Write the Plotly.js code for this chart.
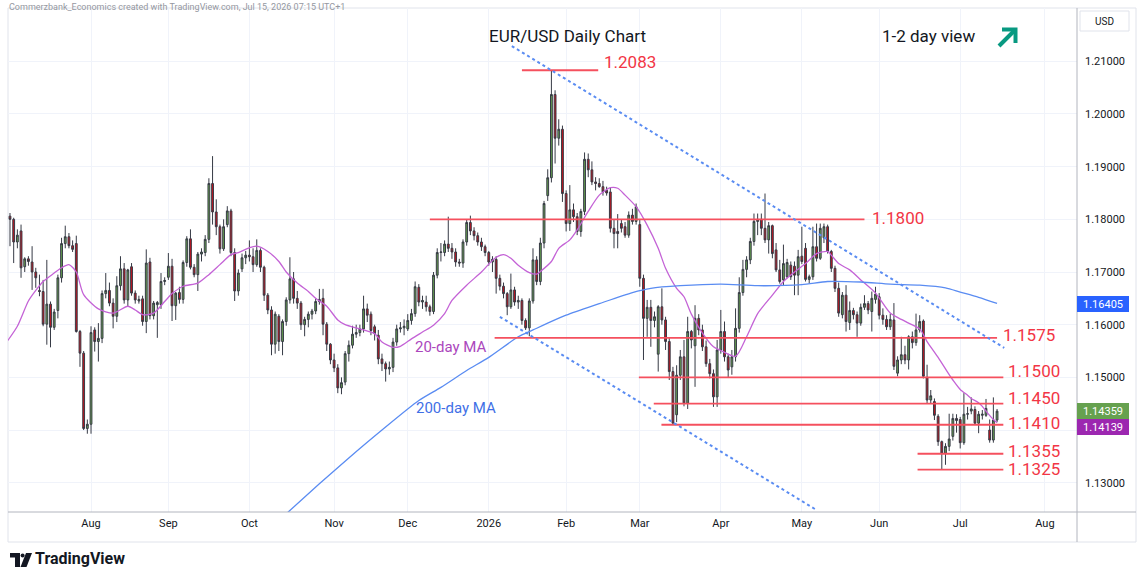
<!DOCTYPE html>
<html>
<head>
<meta charset="utf-8">
<script src="https://cdn.plot.ly/plotly-3.0.1.min.js"></script>
<style>
html,body{margin:0;padding:0;background:#ffffff;}
#chart{width:1140px;height:570px;}
</style>
</head>
<body>
<div id="chart"></div>
<script>
// ---------------- DATA ----------------
const firstDay = '2025-07-01';
const closedDays = ['2025-12-25', '2026-01-01'];

// daily OHLC, Jul 2025 .. 15 Jul 2026 (one line per month)
const open = [
1.1787,1.1806,1.1800,1.1757,1.1778,1.1710,1.1725,1.1719,1.1700,1.1665,1.1663,1.1601,1.1639,1.1595,1.1627,1.1689,1.1754,1.1767,1.1750,1.1754,1.1587,1.1546,1.1403,
1.1411,1.1590,1.1568,1.1574,1.1659,1.1665,1.1641,1.1616,1.1674,1.1706,1.1647,1.1710,1.1660,1.1645,1.1649,1.1606,1.1719,1.1617,1.1638,1.1638,1.1682,
1.1690,1.1711,1.1636,1.1661,1.1648,1.1718,1.1763,1.1709,1.1695,1.1734,1.1737,1.1762,1.1868,1.1814,1.1786,1.1744,1.1790,1.1816,1.1737,1.1664,1.1706,1.1727,
1.1732,1.1729,1.1714,1.1741,1.1709,1.1656,1.1628,1.1563,1.1616,1.1568,1.1606,1.1647,1.1687,1.1650,1.1641,1.1600,1.1610,1.1620,1.1626,1.1644,1.1650,1.1601,1.1563,
1.1533,1.1518,1.1480,1.1491,1.1545,1.1561,1.1582,1.1585,1.1592,1.1630,1.1620,1.1596,1.1580,1.1535,1.1526,1.1516,1.1519,1.1567,1.1592,1.1594,
1.1592,1.1608,1.1621,1.1671,1.1643,1.1643,1.1634,1.1625,1.1694,1.1737,1.1737,1.1753,1.1745,1.1738,1.1719,1.1717,1.1757,1.1794,1.1778,1.1769,1.1757,1.1748,
1.1737,1.1719,1.1724,1.1688,1.1673,1.1659,1.1634,1.1666,1.1643,1.1646,1.1608,1.1594,1.1645,1.1723,1.1682,1.1755,1.1845,1.1879,1.2037,1.1954,1.1971,
1.1849,1.1792,1.1818,1.1805,1.1777,1.1815,1.1914,1.1894,1.1871,1.1868,1.1862,1.1855,1.1852,1.1783,1.1777,1.1792,1.1786,1.1770,1.1808,1.1796,
1.1790,1.1688,1.1612,1.1633,1.1608,1.1544,1.1634,1.1609,1.1568,1.1511,1.1429,1.1504,1.1539,1.1451,1.1587,1.1560,1.1612,1.1590,1.1558,1.1526,1.1507,1.1463,
1.1552,1.1587,1.1539,1.1520,1.1539,1.1593,1.1661,1.1705,1.1723,1.1758,1.1796,1.1800,1.1783,1.1761,1.1788,1.1742,1.1704,1.1685,1.1691,1.1713,1.1711,1.1694,
1.1730,1.1745,1.1686,1.1691,1.1748,1.1726,1.1765,1.1786,1.1739,1.1707,1.1669,1.1619,1.1656,1.1604,1.1627,1.1619,1.1603,1.1633,1.1640,1.1625,1.1648,
1.1653,1.1618,1.1610,1.1596,1.1609,1.1508,1.1533,1.1543,1.1533,1.1577,1.1566,1.1590,1.1607,1.1500,1.1457,1.1454,1.1426,1.1378,1.1356,1.1369,1.1388,1.1422,
1.1420,1.1376,1.1430,1.1436,1.1439,1.1413,1.1428,1.1428,1.1400,1.1381,1.1419
];
const high = [
1.1830,1.1812,1.1803,1.1781,1.1790,1.1728,1.1730,1.1749,1.1708,1.1695,1.1685,1.1723,1.1644,1.1630,1.1695,1.1765,1.1788,1.1774,1.1760,1.1769,1.1590,1.1550,1.1420,
1.1597,1.1595,1.1603,1.1665,1.1698,1.1680,1.1650,1.1692,1.1730,1.1717,1.1706,1.1717,1.1665,1.1655,1.1655,1.1743,1.1727,1.1645,1.1645,1.1698,1.1690,
1.1736,1.1725,1.1662,1.1672,1.1722,1.1768,1.1781,1.1715,1.1738,1.1745,1.1770,1.1878,1.1920,1.1838,1.1790,1.1800,1.1825,1.1820,1.1745,1.1705,1.1735,1.1740,
1.1760,1.1745,1.1762,1.1745,1.1712,1.1660,1.1635,1.1625,1.1620,1.1610,1.1652,1.1728,1.1700,1.1664,1.1645,1.1615,1.1625,1.1630,1.1650,1.1668,1.1668,1.1605,1.1565,
1.1545,1.1525,1.1500,1.1550,1.1570,1.1598,1.1600,1.1600,1.1655,1.1640,1.1625,1.1600,1.1590,1.1545,1.1530,1.1530,1.1575,1.1600,1.1605,1.1610,
1.1620,1.1630,1.1682,1.1677,1.1655,1.1655,1.1638,1.1700,1.1745,1.1755,1.1760,1.1805,1.1755,1.1745,1.1725,1.1762,1.1800,1.1807,1.1785,1.1775,1.1765,1.1752,
1.1740,1.1730,1.1730,1.1695,1.1680,1.1662,1.1697,1.1672,1.1655,1.1650,1.1612,1.1650,1.1745,1.1730,1.1765,1.1835,1.1895,1.2083,1.2045,1.1990,1.1978,
1.1855,1.1865,1.1830,1.1812,1.1820,1.1927,1.1925,1.1910,1.1880,1.1878,1.1873,1.1862,1.1860,1.1800,1.1810,1.1800,1.1795,1.1815,1.1820,1.1830,
1.1800,1.1695,1.1647,1.1647,1.1625,1.1637,1.1669,1.1615,1.1575,1.1520,1.1523,1.1552,1.1571,1.1615,1.1590,1.1637,1.1620,1.1600,1.1570,1.1535,1.1515,1.1571,
1.1628,1.1606,1.1545,1.1552,1.1631,1.1690,1.1723,1.1730,1.1765,1.1811,1.1811,1.1811,1.1849,1.1795,1.1790,1.1755,1.1723,1.1752,1.1725,1.1720,1.1720,1.1742,
1.1786,1.1755,1.1695,1.1786,1.1792,1.1792,1.1792,1.1790,1.1742,1.1712,1.1680,1.1662,1.1675,1.1644,1.1632,1.1625,1.1640,1.1656,1.1645,1.1663,1.1672,
1.1660,1.1631,1.1618,1.1621,1.1641,1.1540,1.1577,1.1560,1.1580,1.1587,1.1621,1.1618,1.1610,1.1524,1.1476,1.1460,1.1430,1.1380,1.1375,1.1431,1.1431,1.1430,
1.1425,1.1470,1.1444,1.1462,1.1445,1.1436,1.1438,1.1459,1.1420,1.1462,1.1440
];
const low = [
1.1785,1.1749,1.1717,1.1745,1.1689,1.1700,1.1712,1.1666,1.1670,1.1654,1.1597,1.1562,1.1557,1.1590,1.1612,1.1680,1.1745,1.1745,1.1738,1.1585,1.1520,1.1400,1.1393,
1.1393,1.1549,1.1530,1.1565,1.1650,1.1635,1.1593,1.1605,1.1665,1.1640,1.1635,1.1655,1.1640,1.1640,1.1598,1.1584,1.1610,1.1610,1.1575,1.1630,1.1675,
1.1685,1.1607,1.1609,1.1640,1.1640,1.1710,1.1705,1.1690,1.1664,1.1720,1.1730,1.1755,1.1790,1.1770,1.1735,1.1740,1.1785,1.1730,1.1645,1.1655,1.1700,1.1715,
1.1720,1.1700,1.1710,1.1700,1.1645,1.1620,1.1542,1.1545,1.1550,1.1542,1.1598,1.1640,1.1640,1.1630,1.1590,1.1578,1.1595,1.1610,1.1620,1.1638,1.1580,1.1550,1.1525,
1.1510,1.1470,1.1468,1.1485,1.1530,1.1555,1.1575,1.1578,1.1585,1.1605,1.1580,1.1570,1.1525,1.1512,1.1492,1.1505,1.1510,1.1560,1.1585,1.1580,
1.1588,1.1600,1.1615,1.1635,1.1630,1.1625,1.1617,1.1620,1.1688,1.1720,1.1730,1.1738,1.1725,1.1710,1.1710,1.1708,1.1750,1.1770,1.1760,1.1750,1.1740,1.1730,
1.1712,1.1700,1.1659,1.1665,1.1650,1.1618,1.1630,1.1636,1.1630,1.1600,1.1590,1.1578,1.1640,1.1675,1.1675,1.1745,1.1835,1.1870,1.1906,1.1940,1.1833,
1.1777,1.1778,1.1795,1.1770,1.1767,1.1808,1.1880,1.1865,1.1855,1.1860,1.1845,1.1845,1.1775,1.1745,1.1745,1.1775,1.1765,1.1765,1.1790,1.1790,
1.1672,1.1533,1.1577,1.1558,1.1595,1.1511,1.1600,1.1552,1.1495,1.1410,1.1415,1.1495,1.1445,1.1440,1.1555,1.1482,1.1580,1.1550,1.1520,1.1498,1.1444,1.1444,
1.1545,1.1530,1.1500,1.1505,1.1530,1.1585,1.1655,1.1690,1.1715,1.1750,1.1770,1.1770,1.1755,1.1735,1.1726,1.1700,1.1678,1.1675,1.1688,1.1685,1.1656,1.1656,
1.1715,1.1682,1.1678,1.1685,1.1720,1.1723,1.1755,1.1735,1.1700,1.1662,1.1615,1.1612,1.1587,1.1590,1.1610,1.1577,1.1598,1.1628,1.1620,1.1587,1.1640,
1.1610,1.1600,1.1590,1.1590,1.1514,1.1502,1.1525,1.1525,1.1515,1.1555,1.1560,1.1585,1.1498,1.1450,1.1450,1.1419,1.1370,1.1325,1.1334,1.1360,1.1380,1.1395,
1.1365,1.1372,1.1420,1.1430,1.1410,1.1394,1.1420,1.1425,1.1376,1.1376,1.1415
];
const close = [
1.1806,1.1800,1.1757,1.1770,1.1708,1.1725,1.1720,1.1700,1.1689,1.1663,1.1601,1.1639,1.1595,1.1624,1.1689,1.1754,1.1767,1.1750,1.1743,1.1587,1.1546,1.1403,1.1411,
1.1585,1.1568,1.1574,1.1659,1.1665,1.1641,1.1616,1.1674,1.1706,1.1647,1.1704,1.1660,1.1647,1.1648,1.1606,1.1717,1.1617,1.1641,1.1642,1.1682,1.1684,
1.1711,1.1636,1.1660,1.1648,1.1718,1.1763,1.1709,1.1695,1.1734,1.1738,1.1762,1.1868,1.1814,1.1786,1.1744,1.1786,1.1816,1.1737,1.1664,1.1698,1.1727,1.1732,
1.1729,1.1714,1.1741,1.1709,1.1656,1.1628,1.1563,1.1620,1.1568,1.1606,1.1647,1.1687,1.1650,1.1641,1.1600,1.1610,1.1620,1.1626,1.1644,1.1648,1.1601,1.1563,1.1533,
1.1518,1.1480,1.1490,1.1545,1.1561,1.1582,1.1585,1.1592,1.1630,1.1618,1.1589,1.1583,1.1535,1.1526,1.1516,1.1519,1.1567,1.1592,1.1594,1.1597,
1.1608,1.1621,1.1672,1.1643,1.1646,1.1634,1.1625,1.1694,1.1737,1.1738,1.1753,1.1745,1.1738,1.1719,1.1717,1.1757,1.1794,1.1778,1.1769,1.1757,1.1748,1.1737,
1.1719,1.1724,1.1688,1.1673,1.1659,1.1634,1.1666,1.1643,1.1646,1.1608,1.1594,1.1645,1.1723,1.1682,1.1755,1.1830,1.1879,1.2037,1.1954,1.1971,1.1849,
1.1792,1.1818,1.1805,1.1777,1.1815,1.1914,1.1894,1.1871,1.1868,1.1862,1.1852,1.1850,1.1783,1.1773,1.1773,1.1783,1.1770,1.1808,1.1796,1.1824,
1.1688,1.1612,1.1633,1.1608,1.1615,1.1634,1.1609,1.1568,1.1511,1.1413,1.1504,1.1539,1.1451,1.1587,1.1571,1.1612,1.1590,1.1558,1.1526,1.1507,1.1463,1.1552,
1.1587,1.1539,1.1514,1.1539,1.1593,1.1661,1.1705,1.1723,1.1758,1.1796,1.1800,1.1783,1.1761,1.1788,1.1735,1.1704,1.1682,1.1716,1.1718,1.1691,1.1694,1.1729,
1.1720,1.1686,1.1691,1.1748,1.1726,1.1783,1.1786,1.1739,1.1707,1.1669,1.1622,1.1656,1.1606,1.1627,1.1619,1.1603,1.1633,1.1640,1.1628,1.1650,1.1658,
1.1618,1.1610,1.1596,1.1610,1.1521,1.1533,1.1543,1.1533,1.1577,1.1566,1.1590,1.1606,1.1502,1.1457,1.1465,1.1428,1.1378,1.1356,1.1369,1.1383,1.1422,1.1418,
1.1376,1.1430,1.1431,1.1440,1.1413,1.1430,1.1430,1.1441,1.1381,1.1419,1.14359
];

// 20-day moving average
const ma20Dates = ['2025-07-01','2025-07-04','2025-07-09','2025-07-11','2025-07-15','2025-07-18','2025-07-22','2025-07-24','2025-07-28','2025-07-30',
'2025-08-05','2025-08-11','2025-08-15','2025-08-19','2025-08-21','2025-08-26','2025-08-29','2025-09-02','2025-09-05','2025-09-11','2025-09-16','2025-09-19',
'2025-09-24','2025-09-26','2025-10-01','2025-10-03','2025-10-08','2025-10-13','2025-10-15','2025-10-20','2025-10-23','2025-10-27','2025-10-30','2025-11-04',
'2025-11-06','2025-11-12','2025-11-18','2025-11-20','2025-11-25','2025-11-27','2025-12-02','2025-12-05','2025-12-10','2025-12-15','2025-12-17','2025-12-23',
'2025-12-30','2026-01-02','2026-01-06','2026-01-08','2026-01-12','2026-01-14','2026-01-19','2026-01-21','2026-01-22','2026-01-27','2026-01-29','2026-02-03',
'2026-02-05','2026-02-10','2026-02-13','2026-02-18','2026-02-20','2026-02-24','2026-02-27','2026-03-04','2026-03-09','2026-03-11','2026-03-16','2026-03-18',
'2026-03-20','2026-03-25','2026-03-30','2026-04-01','2026-04-07','2026-04-10','2026-04-15','2026-04-21','2026-04-24','2026-04-29','2026-05-04','2026-05-07',
'2026-05-12','2026-05-13','2026-05-15','2026-05-20','2026-05-25','2026-05-29','2026-06-04','2026-06-09','2026-06-11','2026-06-16','2026-06-18','2026-06-23',
'2026-06-26','2026-06-29','2026-07-01','2026-07-03','2026-07-06','2026-07-08','2026-07-09','2026-07-10','2026-07-14','2026-07-15'];
const ma20Values = [1.1566,1.1597,1.1645,1.1665,1.1682,1.1698,1.1708,1.1714,1.1700,1.1657,
1.1630,1.1622,1.1635,1.1628,1.1619,1.1622,1.1644,1.1659,1.1673,1.1679,1.1695,1.1714,
1.1733,1.1737,1.1746,1.1749,1.1739,1.1720,1.1700,1.1679,1.1663,1.1650,1.1635,1.1609,
1.1600,1.1592,1.1583,1.1567,1.1557,1.1559,1.1573,1.1586,1.1599,1.1621,1.1646,1.1675,
1.1700,1.1715,1.1728,1.1733,1.1726,1.1713,1.1699,1.1696,1.1701,1.1720,1.1745,1.1761,
1.1780,1.1815,1.1846,1.1860,1.1859,1.1846,1.1824,1.1789,1.1745,1.1707,1.1669,1.1653,
1.1620,1.1584,1.1558,1.1551,1.1540,1.1577,1.1621,1.1656,1.1682,1.1700,1.1716,1.1735,
1.1739,1.1732,1.1716,1.1704,1.1685,1.1660,1.1622,1.1610,1.1603,1.1592,1.1568,1.1538,
1.1505,1.1495,1.1477,1.1466,1.1460,1.1452,1.1445,1.1436,1.1420,1.1414];

// 200-day moving average
const ma200Dates = ['2025-10-10','2025-10-28','2025-11-07','2025-11-20','2025-12-04','2025-12-12','2025-12-23','2026-01-02','2026-01-14','2026-01-20',
'2026-02-02','2026-02-13','2026-02-26','2026-03-05','2026-03-17','2026-04-01','2026-04-15','2026-05-01','2026-05-12','2026-05-25','2026-06-04','2026-06-16',
'2026-06-25','2026-07-01','2026-07-08','2026-07-15'];
const ma200Values = [1.1222,1.1298,1.1347,1.1400,1.1456,1.1481,1.1513,1.1538,1.1577,1.1590,
1.1618,1.1640,1.1661,1.1669,1.1674,1.1677,1.1674,1.1676,1.1682,1.1681,1.1677,1.1675,
1.1670,1.1662,1.1652,1.16405];

// support / resistance levels and their labels
const levels = [1.2083, 1.1800, 1.1575, 1.1500, 1.1450, 1.1410, 1.1355, 1.1325];
const levelLabels = ['1.2083','1.1800','1.1575','1.1500','1.1450','1.1410','1.1355','1.1325'];

// channel (dotted) lines: [start date, start price, end date, end price]
const channelUpper = ['2026-01-12 06:00', 1.2129, '2026-07-16 23:00', 1.1556];
const channelLower = ['2026-01-07', 1.1615, '2026-05-06 19:00', 1.1249];

// axis ticks
const monthTicks = ['2025-08-01','2025-09-01','2025-10-01','2025-11-03','2025-12-01','2026-01-02','2026-02-02','2026-03-02','2026-04-01','2026-05-01','2026-06-01','2026-07-01','2026-08-03'];
const monthLabels = ['Aug','Sep','Oct','Nov','Dec','2026','Feb','Mar','Apr','May','Jun','Jul','Aug'];
const priceTicks = [1.13,1.14,1.15,1.16,1.17,1.18,1.19,1.20,1.21];

const lastPrice = 1.14359, lastMa20 = 1.14139, lastMa200 = 1.16405;

// ---------------- BUILD ----------------
function tradingDays(start, n, skip) {
  const out = [];
  const d = new Date(start + 'T00:00:00Z');
  while (out.length < n) {
    const dow = d.getUTCDay();
    const s = d.toISOString().slice(0, 10);
    if (dow !== 0 && dow !== 6 && skip.indexOf(s) < 0) out.push(s);
    d.setUTCDate(d.getUTCDate() + 1);
  }
  return out;
}
const dates = tradingDays(firstDay, close.length, closedDays);

// pixel helpers for decorations outside the data (frame, logo, headings)
const PL = 8, PR = 1077, PT = 8, PB = 512;
const pxX = v => (v - PL) / (PR - PL);
const pxY = v => (PB - v) / (PB - PT);

const GREEN = '#66a14f', RED = '#c8121d', OUTLINE = '#363a45';
const LEVEL = '#f5505e', LEVELTXT = '#f23645';
const PURPLE = '#c463d6', BLUE = '#5a8cf2';
const FONT = 'Roboto, "Open Sans", sans-serif';

const traces = [
  {
    type: 'candlestick', x: dates, open: open, high: high, low: low, close: close,
    increasing: {line: {color: OUTLINE, width: 1}, fillcolor: GREEN},
    decreasing: {line: {color: OUTLINE, width: 1}, fillcolor: RED},
    whiskerwidth: 0, hoverinfo: 'skip', showlegend: false
  },
  {
    type: 'scatter', mode: 'lines', x: ma20Dates, y: ma20Values,
    line: {color: PURPLE, width: 1.3, shape: 'spline', smoothing: 0.7},
    hoverinfo: 'skip', showlegend: false
  },
  {
    type: 'scatter', mode: 'lines', x: ma200Dates, y: ma200Values,
    line: {color: BLUE, width: 1.3, shape: 'spline', smoothing: 0.7},
    hoverinfo: 'skip', showlegend: false
  }
];

// level line extents (positions in the drawing)
const levelStart = ['2026-01-15','2025-12-09','2026-01-05 14:00','2026-02-27 18:00','2026-03-05 19:00','2026-03-09 21:00','2026-06-15 10:00','2026-06-15 10:00'];
const levelEnd = ['2026-02-12 17:00','2026-05-26','2026-07-15','2026-07-16 17:00','2026-07-16 17:00','2026-07-16 17:00','2026-07-16 17:00','2026-07-16 17:00'];
const labelShiftX = [4, 6, 4, 3, 3, 3, 3, 3];
const labelShiftY = [8, 1, 3, 6, 6, 2, 3, 1];

const shapes = [];
// chart frame
shapes.push({type: 'rect', xref: 'paper', yref: 'paper', x0: 0, x1: pxX(1136), y0: pxY(542), y1: 1,
  line: {color: '#e0e3eb', width: 1}, fillcolor: 'rgba(0,0,0,0)', layer: 'below'});
// time scale top line and price scale line
shapes.push({type: 'line', xref: 'paper', yref: 'paper', x0: 0, x1: pxX(1136), y0: 0, y1: 0, line: {color: '#b2b5be', width: 1}});
shapes.push({type: 'line', xref: 'paper', yref: 'paper', x0: 1, x1: 1, y0: pxY(542), y1: 1, line: {color: '#b2b5be', width: 1}});
// USD box
shapes.push({type: 'rect', xref: 'paper', yref: 'paper', x0: pxX(1080), x1: pxX(1129), y0: pxY(31), y1: pxY(11),
  line: {color: '#e0e3eb', width: 1}, fillcolor: '#ffffff'});

// levels
levels.forEach((lv, i) => {
  shapes.push({type: 'line', xref: 'x', yref: 'y', x0: levelStart[i], x1: levelEnd[i], y0: lv, y1: lv,
    line: {color: LEVEL, width: 1.8}});
});
// channel lines
[channelUpper, channelLower].forEach(c => {
  shapes.push({type: 'line', xref: 'x', yref: 'y', x0: c[0], y0: c[1], x1: c[2], y1: c[3],
    line: {color: BLUE, width: 2, dash: 'dot'}});
});

// up arrow (1-2 day view)
const arrowPath1 = `M ${pxX(999)} ${pxY(46)} L ${pxX(1014)} ${pxY(31)}`;
const arrowPath2 = `M ${pxX(1002)} ${pxY(29.5)} L ${pxX(1015.5)} ${pxY(29.5)} L ${pxX(1015.5)} ${pxY(43)}`;
shapes.push({type: 'path', xref: 'paper', yref: 'paper', path: arrowPath1, line: {color: '#089981', width: 4}});
shapes.push({type: 'path', xref: 'paper', yref: 'paper', path: arrowPath2, line: {color: '#089981', width: 4}});

// TradingView logo glyph
const logoT = `M ${pxX(10)} ${pxY(553)} L ${pxX(20)} ${pxY(553)} L ${pxX(20)} ${pxY(567)} L ${pxX(15)} ${pxY(567)} L ${pxX(15)} ${pxY(557.5)} L ${pxX(10)} ${pxY(557.5)} Z`;
const logoS = `M ${pxX(26)} ${pxY(553)} L ${pxX(32)} ${pxY(553)} L ${pxX(26.5)} ${pxY(567)} L ${pxX(20.5)} ${pxY(567)} Z`;
shapes.push({type: 'path', xref: 'paper', yref: 'paper', path: logoT, fillcolor: '#131722', line: {width: 0}});
shapes.push({type: 'path', xref: 'paper', yref: 'paper', path: logoS, fillcolor: '#131722', line: {width: 0}});
shapes.push({type: 'circle', xref: 'paper', yref: 'paper', x0: pxX(20.6), x1: pxX(24.6), y0: pxY(557.5), y1: pxY(553.5), fillcolor: '#131722', line: {width: 0}});

const annotations = [];
function pxText(text, x, y, size, color, opts) {
  return Object.assign({xref: 'paper', yref: 'paper', x: pxX(x), y: pxY(y), text: text, showarrow: false,
    xanchor: 'left', yanchor: 'middle', font: {family: FONT, size: size, color: color}}, opts || {});
}
annotations.push(pxText('Commerzbank_Economics created with TradingView.com, Jul 15, 2026 07:15 UTC+1', 8, 1, 9, '#9598a1', {borderpad: 0, yanchor: 'top'}));
annotations.push(pxText('EUR/USD Daily Chart', 487, 36, 17, '#131722'));
annotations.push(pxText('1-2 day view', 880, 36, 17, '#131722'));
annotations.push(pxText('20-day MA', 413, 347, 15, '#ab47bc'));
annotations.push(pxText('200-day MA', 414, 408, 15, '#3f6fe6'));
annotations.push(pxText('USD', 1093, 21, 10, '#131722'));
annotations.push(pxText('<b>TradingView</b>', 34, 558, 16, '#131722', {borderpad: 0}));

levels.forEach((lv, i) => {
  annotations.push({xref: 'x', yref: 'y', x: levelEnd[i], y: lv, text: levelLabels[i], showarrow: false,
    xanchor: 'left', yanchor: 'middle', xshift: labelShiftX[i], yshift: labelShiftY[i],
    font: {family: FONT, size: 17, color: LEVELTXT}});
});

function priceBox(v, bg, shift) {
  return {xref: 'paper', yref: 'y', x: 1, y: v, text: v.toFixed(5), showarrow: false,
    xanchor: 'left', yanchor: 'middle', yshift: shift, bgcolor: bg, bordercolor: bg, borderpad: 1,
    width: 48, height: 12, font: {family: FONT, size: 11, color: '#ffffff'}};
}
annotations.push(priceBox(lastMa200, '#2962ff', -1));
annotations.push(priceBox(lastPrice, GREEN, 0));
annotations.push(priceBox(lastMa20, '#9c27b0', -4));

const layout = {
  width: 1140, height: 570,
  margin: {l: PL, r: 1140 - PR, t: PT, b: 570 - PB, pad: 0},
  paper_bgcolor: '#ffffff', plot_bgcolor: '#ffffff',
  showlegend: false, dragmode: false, hovermode: false,
  font: {family: FONT, color: '#131722'},
  xaxis: {
    type: 'date',
    range: ['2025-07-01 11:00', '2026-08-13 17:00'],
    rangebreaks: [{bounds: ['sat', 'mon']}, {values: closedDays}],
    tickmode: 'array', tickvals: monthTicks, ticktext: monthLabels,
    showgrid: true, gridcolor: '#f0f3fa', gridwidth: 1,
    zeroline: false, showline: false, ticks: '',
    ticklabelstandoff: 3,
    tickfont: {family: FONT, size: 11, color: '#131722'},
    rangeslider: {visible: false}, fixedrange: true
  },
  yaxis: {
    side: 'right',
    range: [1.12444, 1.22012],
    tickmode: 'array', tickvals: priceTicks,
    ticktext: priceTicks.map(v => Math.abs(v - 1.14) < 1e-9 ? '' : v.toFixed(5)),
    showgrid: true, gridcolor: '#f0f3fa', gridwidth: 1,
    zeroline: false, showline: false, ticks: '',
    ticklabelstandoff: 7,
    tickfont: {family: FONT, size: 11, color: '#131722'},
    fixedrange: true
  },
  shapes: shapes,
  annotations: annotations
};

Plotly.newPlot('chart', traces, layout, {displayModeBar: false, staticPlot: true});
</script>
</body>
</html>
